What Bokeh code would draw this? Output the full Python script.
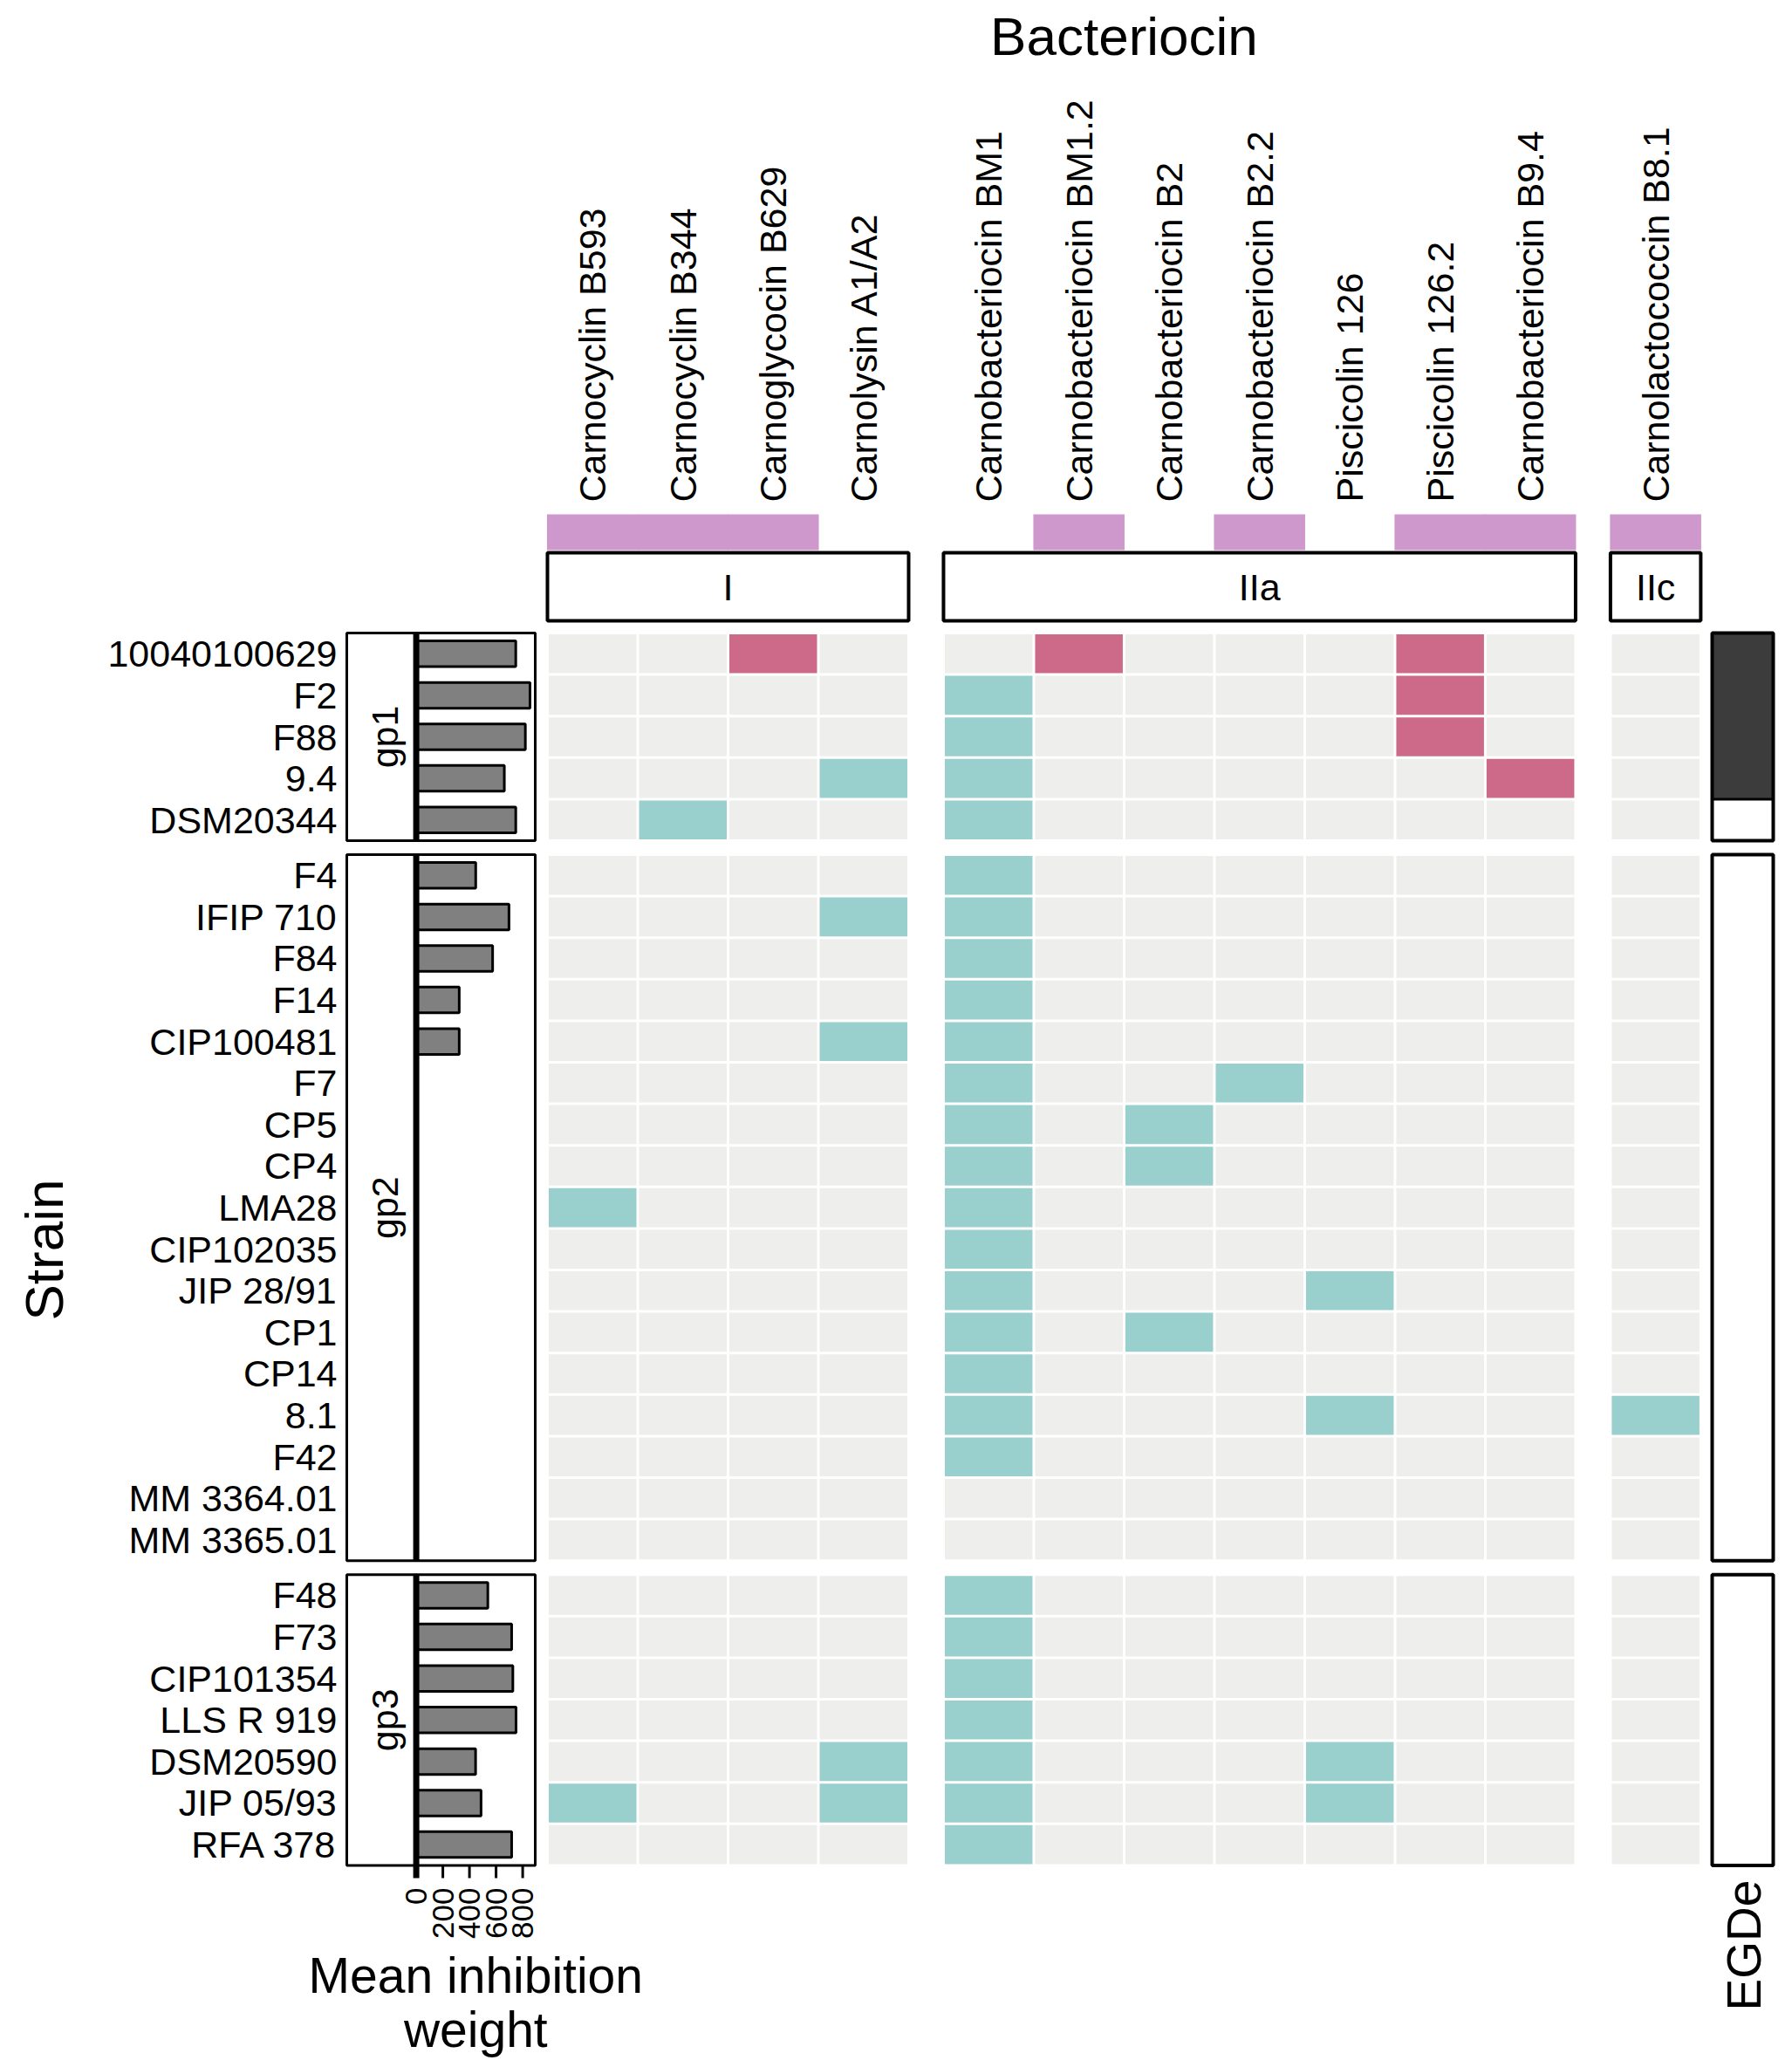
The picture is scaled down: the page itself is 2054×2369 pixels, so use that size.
import numpy as np
from bokeh.plotting import figure
from bokeh.models import Range1d
from bokeh.core.properties import value
from bokeh.embed import file_html
from bokeh.resources import INLINE

# ---------------- data ----------------
bacteriocins = ["Carnocyclin B593", "Carnocyclin B344", "Carnoglycocin B629", "Carnolysin A1/A2",
                "Carnobacteriocin BM1", "Carnobacteriocin BM1.2", "Carnobacteriocin B2",
                "Carnobacteriocin B2.2", "Piscicolin 126", "Piscicolin 126.2",
                "Carnobacteriocin B9.4", "Carnolactococcin B8.1"]
bact_class = ["I", "I", "I", "I", "IIa", "IIa", "IIa", "IIa", "IIa", "IIa", "IIa", "IIc"]
bact_marked = [1, 1, 1, 0, 0, 1, 0, 1, 0, 1, 1, 1]

strains = ["10040100629", "F2", "F88", "9.4", "DSM20344",
           "F4", "IFIP 710", "F84", "F14", "CIP100481", "F7", "CP5", "CP4", "LMA28",
           "CIP102035", "JIP 28/91", "CP1", "CP14", "8.1", "F42", "MM 3364.01", "MM 3365.01",
           "F48", "F73", "CIP101354", "LLS R 919", "DSM20590", "JIP 05/93", "RFA 378"]
strain_group = ["gp1"] * 5 + ["gp2"] * 17 + ["gp3"] * 7
mean_inhibition = [748, 855, 820, 662, 748,
                   447, 697, 574, 323, 323, 0, 0, 0, 0, 0, 0, 0, 0, 0, 0, 0, 0,
                   538, 717, 726, 750, 446, 487, 717]
egde = [1, 1, 1, 1, 0] + [0] * 17 + [0] * 7

# 0 = absent, 1 = present (teal), 2 = present (red)
presence = [
    [0, 0, 2, 0, 0, 2, 0, 0, 0, 2, 0, 0],  # 10040100629
    [0, 0, 0, 0, 1, 0, 0, 0, 0, 2, 0, 0],  # F2
    [0, 0, 0, 0, 1, 0, 0, 0, 0, 2, 0, 0],  # F88
    [0, 0, 0, 1, 1, 0, 0, 0, 0, 0, 2, 0],  # 9.4
    [0, 1, 0, 0, 1, 0, 0, 0, 0, 0, 0, 0],  # DSM20344
    [0, 0, 0, 0, 1, 0, 0, 0, 0, 0, 0, 0],  # F4
    [0, 0, 0, 1, 1, 0, 0, 0, 0, 0, 0, 0],  # IFIP 710
    [0, 0, 0, 0, 1, 0, 0, 0, 0, 0, 0, 0],  # F84
    [0, 0, 0, 0, 1, 0, 0, 0, 0, 0, 0, 0],  # F14
    [0, 0, 0, 1, 1, 0, 0, 0, 0, 0, 0, 0],  # CIP100481
    [0, 0, 0, 0, 1, 0, 0, 1, 0, 0, 0, 0],  # F7
    [0, 0, 0, 0, 1, 0, 1, 0, 0, 0, 0, 0],  # CP5
    [0, 0, 0, 0, 1, 0, 1, 0, 0, 0, 0, 0],  # CP4
    [1, 0, 0, 0, 1, 0, 0, 0, 0, 0, 0, 0],  # LMA28
    [0, 0, 0, 0, 1, 0, 0, 0, 0, 0, 0, 0],  # CIP102035
    [0, 0, 0, 0, 1, 0, 0, 0, 1, 0, 0, 0],  # JIP 28/91
    [0, 0, 0, 0, 1, 0, 1, 0, 0, 0, 0, 0],  # CP1
    [0, 0, 0, 0, 1, 0, 0, 0, 0, 0, 0, 0],  # CP14
    [0, 0, 0, 0, 1, 0, 0, 0, 1, 0, 0, 1],  # 8.1
    [0, 0, 0, 0, 1, 0, 0, 0, 0, 0, 0, 0],  # F42
    [0, 0, 0, 0, 0, 0, 0, 0, 0, 0, 0, 0],  # MM 3364.01
    [0, 0, 0, 0, 0, 0, 0, 0, 0, 0, 0, 0],  # MM 3365.01
    [0, 0, 0, 0, 1, 0, 0, 0, 0, 0, 0, 0],  # F48
    [0, 0, 0, 0, 1, 0, 0, 0, 0, 0, 0, 0],  # F73
    [0, 0, 0, 0, 1, 0, 0, 0, 0, 0, 0, 0],  # CIP101354
    [0, 0, 0, 0, 1, 0, 0, 0, 0, 0, 0, 0],  # LLS R 919
    [0, 0, 0, 1, 1, 0, 0, 0, 1, 0, 0, 0],  # DSM20590
    [1, 0, 0, 1, 1, 0, 0, 0, 1, 0, 0, 0],  # JIP 05/93
    [0, 0, 0, 0, 1, 0, 0, 0, 0, 0, 0, 0],  # RFA 378
]
bar_ticks = [0, 200, 400, 600, 800]

cell_colors = {0: "#EEEEEC", 1: "#99CFCD", 2: "#CD6A89"}
PINK = "#CF98CC"
DARK = "#3C3C3C"
BAR = "#808080"
FONT = value("Liberation Sans")

# ---------------- layout ----------------
OFF = 0
W, H = 2054, 2369
COLW, ROWH = 103.5, 47.6
X0, Y0 = 627.0, 725.0
GAPC, GAPR = 0.386, 0.336


def xd(px):
    return (px - X0) / COLW


def yd(px):
    return (px - Y0) / ROWH


# column centres (data units) with gaps between classes
col_x = []
pos = 0.0
for i, c in enumerate(bact_class):
    if i > 0 and c != bact_class[i - 1]:
        pos += GAPC
    col_x.append(pos + 0.5)
    pos += 1.0

row_y = []
pos = 0.0
for i, g in enumerate(strain_group):
    if i > 0 and g != strain_group[i - 1]:
        pos += GAPR
    row_y.append(pos + 0.5)
    pos += 1.0

classes = list(dict.fromkeys(bact_class))
groups = list(dict.fromkeys(strain_group))
cls_left = [min(col_x[i] for i in range(len(col_x)) if bact_class[i] == c) - 0.5 for c in classes]
cls_right = [max(col_x[i] for i in range(len(col_x)) if bact_class[i] == c) + 0.5 for c in classes]
grp_top = [min(row_y[i] for i in range(len(row_y)) if strain_group[i] == g) - 0.5 for g in groups]
grp_bot = [max(row_y[i] for i in range(len(row_y)) if strain_group[i] == g) + 0.5 for g in groups]

# bar scale: value 0 at px 476.6, 800 at px 598.6
BAR0_PX = 476.6
BAR_PPV = 122.0 / 800.0
bar_range = Range1d((OFF - BAR0_PX) / BAR_PPV, (OFF + W - BAR0_PX) / BAR_PPV)

p = figure(width=W, height=H,
           x_range=Range1d(xd(OFF), xd(OFF + W)),
           y_range=Range1d(yd(OFF + H), yd(OFF)),
           output_backend="svg", toolbar_location=None, min_border=0,
           x_axis_location=None, y_axis_location=None)
p.extra_x_ranges = {"bar": bar_range}
p.outline_line_color = None
p.xgrid.visible = False
p.ygrid.visible = False
p.background_fill_color = "white"
p.border_fill_color = "white"

# ---------------- heat map ----------------
hx, hy, hc = [], [], []
for r, row in enumerate(presence):
    for c, v in enumerate(row):
        hx.append(col_x[c])
        hy.append(row_y[r])
        hc.append(cell_colors[v])
p.rect(x=hx, y=hy, width=100.5 / COLW, height=44.6 / ROWH, fill_color=hc, line_color=None)

# ---------------- header ----------------
mk = [i for i, m in enumerate(bact_marked) if m]
p.rect(x=[col_x[i] for i in mk], y=(yd(589) + yd(630)) / 2, width=1.01,
       height=yd(630) - yd(589), fill_color=PINK, line_color=None)

p.quad(left=cls_left, right=cls_right, top=yd(633), bottom=yd(711),
       fill_color="white", line_color="black", line_width=4)
p.text(x=[(a + b) / 2 for a, b in zip(cls_left, cls_right)], y=(yd(633) + yd(711)) / 2,
       text=classes, text_align="center", text_baseline="middle",
       text_font=FONT, text_font_size="43px", text_color="black")

p.text(x=col_x, y=yd(575), text=bacteriocins, angle=np.pi / 2,
       text_align="left", text_baseline="middle",
       text_font=FONT, text_font_size="43px", text_color="black")

p.text(x=[(cls_left[0] + cls_right[-1]) / 2], y=[yd(41)], text=["Bacteriocin"],
       text_align="center", text_baseline="middle",
       text_font=FONT, text_font_size="62px", text_color="black")

# ---------------- left: strains, strips, bars ----------------
p.text(x=xd(386), y=row_y, text=strains, text_align="right", text_baseline="middle",
       text_font=FONT, text_font_size="43px", text_color="black")

p.quad(left=xd(397), right=xd(476.6), top=grp_top, bottom=grp_bot,
       fill_color="white", line_color="black", line_width=3)
p.quad(left=xd(476.6), right=xd(613), top=grp_top, bottom=grp_bot,
       fill_color="white", line_color="black", line_width=3)
p.text(x=xd(440), y=[(a + b) / 2 for a, b in zip(grp_top, grp_bot)], text=groups,
       angle=np.pi / 2, text_align="center", text_baseline="middle",
       text_font=FONT, text_font_size="43px", text_color="black")

bi = [i for i, v in enumerate(mean_inhibition) if v > 0]
p.hbar(y=[row_y[i] for i in bi], left=0, right=[mean_inhibition[i] for i in bi],
       height=0.62, x_range_name="bar", fill_color=BAR, line_color="black", line_width=3)

p.segment(x0=0, x1=0, y0=grp_top, y1=grp_bot, x_range_name="bar",
          line_color="black", line_width=7)

tick_y0 = grp_bot[-1]
tick_y1 = yd(2152)
p.segment(x0=bar_ticks, x1=bar_ticks, y0=tick_y0, y1=tick_y1, x_range_name="bar",
          line_color="black", line_width=[7] + [3] * (len(bar_ticks) - 1))
p.text(x=bar_ticks, y=yd(2163), text=[str(t) for t in bar_ticks], x_range_name="bar",
       angle=np.pi / 2, text_align="right", text_baseline="middle",
       text_font=FONT, text_font_size="35px", text_color="black")

mid_val = (613 - BAR0_PX) / BAR_PPV / 2
p.text(x=[mid_val, mid_val], y=[yd(2263), yd(2325)], text=["Mean inhibition", "weight"],
       x_range_name="bar", text_align="center", text_baseline="middle",
       text_font=FONT, text_font_size="57px", text_color="black")

p.text(x=[xd(50)], y=[yd(1432)], text=["Strain"], angle=np.pi / 2,
       text_align="center", text_baseline="middle",
       text_font=FONT, text_font_size="62px", text_color="black")

# ---------------- right: EGDe ----------------
ex_c = xd(1997)
ex_w = 70.0 / COLW
p.rect(x=ex_c, y=row_y, width=ex_w, height=1.03,
       fill_color=[DARK if e else "white" for e in egde], line_color=None)
for g, t, b in zip(groups, grp_top, grp_bot):
    idx = [i for i in range(len(strains)) if strain_group[i] == g and egde[i]]
    if idx:
        p.quad(left=ex_c - ex_w / 2, right=ex_c + ex_w / 2,
               top=min(row_y[i] for i in idx) - 0.5, bottom=max(row_y[i] for i in idx) + 0.5,
               fill_color=None, line_color="black", line_width=3)
p.quad(left=ex_c - ex_w / 2, right=ex_c + ex_w / 2, top=grp_top, bottom=grp_bot,
       fill_color=None, line_color="black", line_width=4)
p.text(x=[xd(1998)], y=[yd(2229)], text=["EGDe"], angle=np.pi / 2,
       text_align="center", text_baseline="middle",
       text_font=FONT, text_font_size="55px", text_color="black")

open("out.html", "w").write(file_html(p, INLINE))
